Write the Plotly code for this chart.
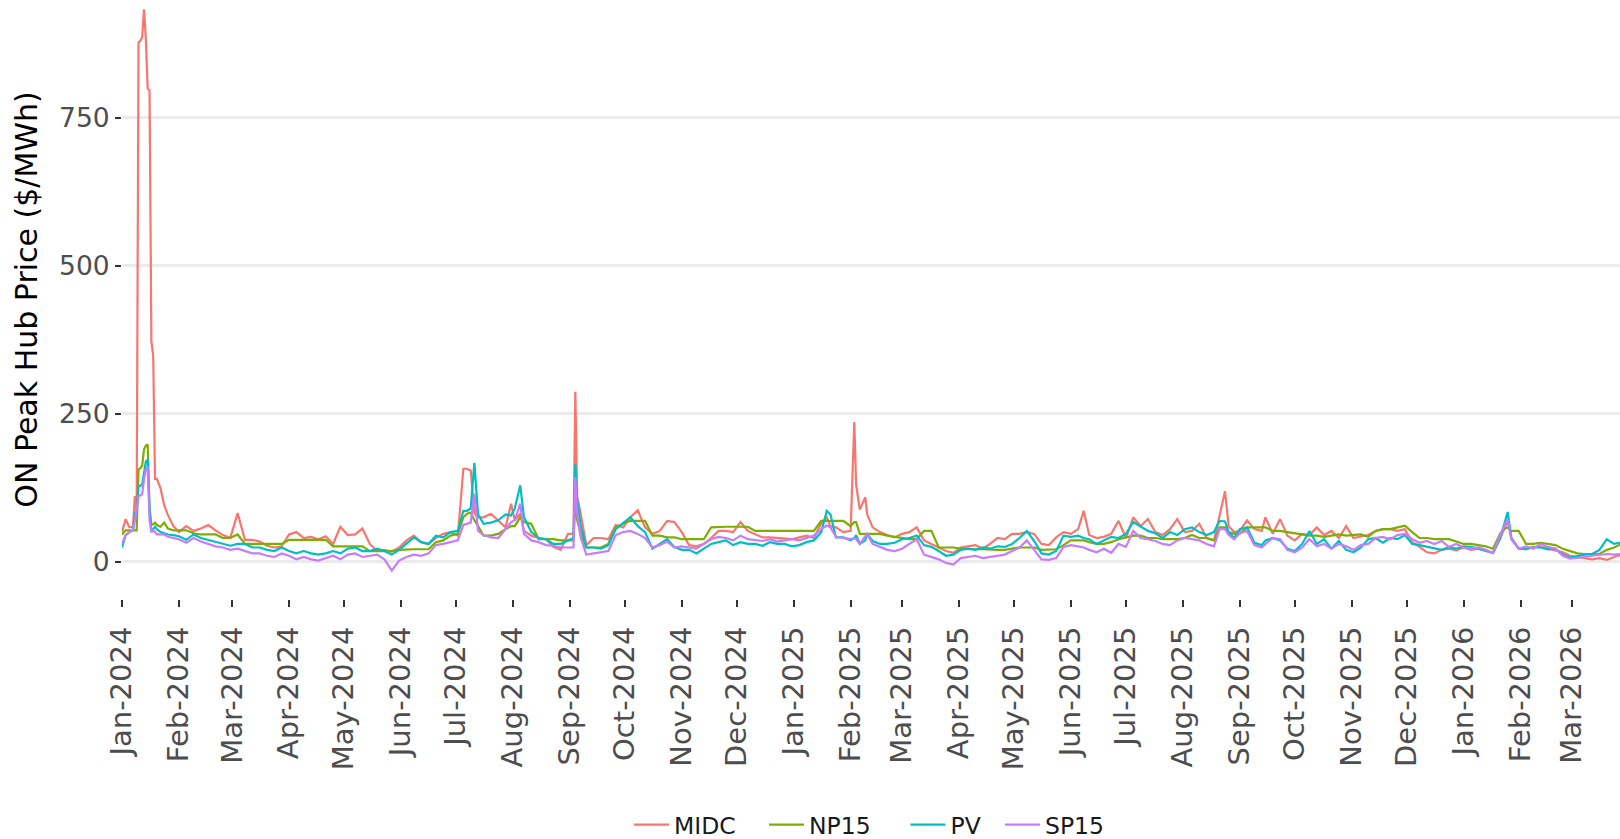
import plotly.graph_objects as go
from datetime import date, timedelta

START = date(2024, 1, 1)
X_END = "2026-03-27 05:00"
SERIES = ["MIDC", "NP15", "PV", "SP15"]
COLORS = ["#F8766D", "#7CAE00", "#00BFC4", "#C77CFF"]
Y_TICKS = [0, 250, 500, 750]

# day offsets from 2024-01-01
DAYS = [0, 2, 4, 6, 7, 8, 9, 10, 11, 12, 13, 14, 15, 16, 17, 18, 19, 21, 23, 25, 28,
        31, 35, 39, 43, 47, 51, 55, 59, 63, 67, 71, 75, 79, 83, 87, 91, 95, 99, 103, 107,
        111, 115, 119, 123, 127, 131, 135, 139, 143, 147, 151,
        155, 159, 163, 167, 171, 175, 179, 183, 186, 188, 190, 192, 194, 197, 201, 205, 209, 212, 214, 217,
        219, 223, 227, 231, 235, 239, 243, 246, 247, 248, 250, 253, 257, 261, 265, 269, 273, 277, 281, 285,
        289, 293, 297, 301, 305, 309, 313, 317, 321, 325, 329, 333, 337, 341, 345, 349, 353, 357,
        361, 365, 369, 373, 377, 381, 384, 386, 389, 393, 397, 399, 400, 402, 405, 406, 409, 413, 417, 421,
        425, 429, 433, 437, 441, 445, 449, 453, 457, 461, 465, 469, 473, 477, 481, 485, 489, 493, 497, 501,
        505, 509, 513, 517, 521, 524, 527, 531, 535, 539, 543, 547, 551, 555, 559, 563, 567, 571, 575, 579,
        583, 587,
        591, 595, 598, 601, 603, 606, 609, 613, 617, 621, 623, 627, 631, 635, 639, 643, 647, 651, 655, 659,
        663, 667, 671, 675, 679, 683, 687, 691, 695, 699, 703, 707, 711, 715, 719, 723, 727, 731, 735, 739,
        743, 747, 751, 753, 755, 757, 761, 765, 769, 773, 777, 781, 785, 789, 793, 797, 801, 805, 809, 813,
        817, 821]

MIDC = [50, 72, 58, 59, 111, 88, 877, 880, 886, 933, 883, 799, 796, 373, 347, 140, 140, 124, 95, 79, 60,
        50, 60, 52, 56, 62, 53, 45, 40, 82, 37, 37, 34, 27, 24, 26, 46, 50, 40, 42, 38,
        43, 30, 59, 45, 46, 56, 30, 18, 20, 17, 24,
        36, 44, 33, 30, 40, 47, 50, 44, 157, 157, 154, 81, 75, 75, 81, 69, 58, 98, 70, 81,
        52, 44, 40, 38, 25, 20, 47, 47, 287, 110, 80, 28, 40, 40, 38, 62, 58, 75, 87, 58,
        47, 52, 69, 67, 50, 28, 26, 30, 40, 52, 52, 50, 67, 52, 47, 41, 41, 40,
        40, 38, 41, 44, 40, 65, 75, 60, 58, 50, 52, 236, 130, 88, 109, 80, 58, 50, 45, 41,
        47, 50, 58, 36, 30, 24, 18, 15, 24, 26, 28, 22, 30, 40, 38, 47, 47, 50, 47, 30,
        28, 41, 50, 47, 55, 86, 45, 40, 42, 47, 69, 40, 75, 60, 72, 50, 45, 55, 72, 50,
        52, 64,
        40, 36, 75, 119, 60, 50, 52, 70, 55, 52, 75, 47, 72, 44, 36, 47, 45, 58, 45, 52,
        40, 60, 40, 42, 45, 52, 55, 55, 52, 55, 33, 25, 16, 14, 20, 22, 19, 24, 20, 22,
        18, 15, 40, 55, 69, 40, 22, 21, 25, 25, 22, 20, 16, 10, 8, 5, 4, 6, 3, 8,
        12, 14]

NP15 = [46, 53, 53, 53, 53, 53, 156, 158, 162, 190, 196, 198, 90, 63, 63, 66, 62, 59, 66, 56, 53,
        53, 53, 48, 46, 46, 46, 40, 40, 46, 30, 30, 30, 30, 30, 30, 37, 37, 37, 37, 37,
        37, 26, 26, 26, 26, 26, 18, 18, 18, 18, 20,
        21, 21, 21, 21, 33, 36, 44, 47, 75, 81, 83, 70, 60, 44, 44, 47, 55, 60, 60, 75,
        67, 64, 38, 38, 38, 36, 36, 36, 103, 70, 45, 24, 24, 24, 30, 58, 64, 69, 69, 69,
        44, 44, 41, 41, 38, 38, 38, 38, 58, 59, 59, 59, 59, 59, 52, 52, 52, 52,
        52, 52, 52, 52, 52, 69, 69, 69, 69, 69, 60, 67, 67, 47, 47, 47, 47, 47, 44, 42,
        40, 38, 38, 52, 52, 24, 24, 24, 22, 21, 21, 21, 20, 20, 20, 22, 24, 24, 24, 20,
        20, 21, 28, 36, 36, 36, 33, 30, 30, 33, 38, 41, 44, 44, 40, 40, 38, 38, 38, 40,
        45, 40,
        40, 36, 58, 58, 50, 47, 47, 58, 58, 58, 58, 52, 52, 50, 48, 45, 44, 44, 42, 44,
        46, 44, 45, 46, 42, 52, 55, 55, 58, 61, 50, 40, 40, 38, 38, 38, 34, 30, 30, 28,
        26, 22, 48, 55, 58, 52, 52, 30, 30, 32, 30, 28, 22, 18, 14, 13, 13, 13, 20, 24,
        30, 30]

PV = [24, 45, 50, 53, 82, 85, 127, 128, 130, 150, 169, 172, 88, 53, 55, 59, 55, 50, 48, 46, 45,
      43, 37, 46, 40, 37, 34, 30, 27, 30, 30, 24, 24, 20, 18, 24, 18, 14, 18, 14, 12,
      14, 18, 14, 22, 24, 18, 18, 22, 18, 12, 20,
      30, 41, 33, 30, 44, 41, 50, 52, 86, 86, 90, 167, 80, 64, 66, 70, 80, 78, 90, 129,
      75, 50, 40, 38, 30, 30, 36, 40, 165, 103, 60, 24, 24, 22, 28, 55, 65, 75, 60, 50,
      22, 30, 38, 25, 20, 20, 14, 22, 30, 33, 36, 28, 33, 30, 30, 27, 33, 30,
      30, 26, 28, 33, 36, 50, 86, 80, 41, 41, 36, 40, 45, 30, 36, 47, 35, 30, 30, 32,
      38, 40, 44, 28, 25, 18, 10, 12, 20, 22, 20, 24, 22, 26, 25, 30, 40, 52, 35, 14,
      12, 18, 44, 42, 44, 40, 38, 30, 36, 42, 40, 47, 67, 60, 52, 48, 40, 50, 45, 55,
      58, 50,
      45, 50, 69, 68, 50, 40, 55, 58, 32, 28, 36, 40, 36, 22, 18, 30, 52, 30, 38, 22,
      35, 20, 16, 24, 38, 40, 32, 40, 38, 45, 30, 28, 25, 22, 20, 24, 22, 26, 25, 22,
      18, 15, 40, 62, 84, 40, 22, 22, 24, 24, 21, 22, 12, 7, 10, 12, 13, 20, 38, 30,
      33, 30]

SP15 = [30, 45, 50, 53, 69, 90, 111, 112, 114, 140, 156, 160, 70, 50, 53, 50, 46, 46, 46, 42, 40,
        38, 32, 40, 34, 30, 26, 24, 20, 22, 18, 14, 14, 10, 8, 14, 10, 4, 8, 4, 2,
        6, 10, 4, 12, 14, 8, 10, 12, 4, -15, 2,
        8, 12, 10, 14, 28, 30, 33, 36, 62, 64, 66, 115, 52, 45, 41, 40, 55, 67, 70, 98,
        47, 36, 33, 28, 27, 24, 24, 24, 143, 81, 40, 12, 14, 16, 18, 45, 50, 52, 47, 40,
        24, 28, 34, 24, 26, 24, 22, 30, 38, 42, 40, 36, 44, 38, 36, 35, 38, 34,
        36, 38, 36, 40, 44, 55, 61, 58, 42, 40, 38, 40, 38, 30, 42, 47, 30, 25, 20, 18,
        22, 30, 38, 12, 8, 4, -2, -5, 6, 8, 10, 6, 8, 10, 12, 18, 24, 36, 20, 4,
        3, 6, 25, 28, 26, 24, 20, 16, 22, 15, 30, 25, 52, 40, 38, 35, 30, 28, 36, 40,
        38, 36,
        30, 26, 55, 55, 45, 38, 48, 52, 28, 24, 30, 40, 38, 20, 16, 24, 38, 26, 30, 22,
        30, 26, 20, 28, 30, 40, 42, 38, 45, 47, 38, 32, 35, 30, 35, 25, 30, 24, 22, 24,
        20, 15, 45, 60, 72, 38, 22, 26, 22, 30, 25, 22, 10, 5, 6, 8, 10, 12, 13, 12,
        13, 14]

for arr in (MIDC, NP15, PV, SP15):
    assert len(arr) == len(DAYS), (len(arr), len(DAYS))

dates = [START + timedelta(days=d) for d in DAYS]

LEGEND_IDS = ["legend", "legend2", "legend3", "legend4"]
LEGEND_X = [0.3385, 0.4286, 0.5230, 0.5861]

fig = go.Figure()
for name, vals, col, lid in zip(SERIES, [MIDC, NP15, PV, SP15], COLORS, LEGEND_IDS):
    fig.add_trace(go.Scatter(x=dates, y=vals, mode="lines", name=name, legend=lid,
                             line=dict(color=col, width=2.2)))

legend_common = dict(orientation="h", xanchor="left", y=-0.377, yanchor="middle",
                     font=dict(size=23.5, color="#1A1A1A"), itemwidth=35,
                     bgcolor="rgba(0,0,0,0)")
legend_layout = {lid: dict(x=lx, **legend_common) for lid, lx in zip(LEGEND_IDS, LEGEND_X)}

fig.update_layout(
    width=1620, height=839,
    margin=dict(l=122, r=0, t=0, b=240, autoexpand=False),
    paper_bgcolor="white", plot_bgcolor="white",
    font=dict(family="DejaVu Sans", color="#4D4D4D"),
    showlegend=True,
    xaxis=dict(type="date", range=[START, X_END], tickformat="%b-%Y", dtick="M1",
               tick0="2024-01-01", tickangle=-90, ticks="outside", ticklen=7, tickwidth=2,
               tickcolor="#333333", showgrid=False, zeroline=False, showline=False,
               automargin=False,
               tickfont=dict(size=29, color="#4D4D4D"), ticklabelstandoff=8),
    yaxis=dict(range=[-63, 948.8], tickvals=Y_TICKS, ticks="outside", ticklen=6, tickwidth=2,
               tickcolor="#333333", showgrid=True, gridcolor="#EBEBEB", gridwidth=2.5,
               zeroline=False, showline=False, automargin=False,
               tickfont=dict(size=26.5, color="#4D4D4D"),
               title=dict(text="ON Peak Hub Price ($/MWh)", font=dict(size=30, color="#000000"),
                          standoff=12)),
    **legend_layout,
)

fig.write_html("out.html", post_script="document.body.style.margin='0';",
               config={"displayModeBar": False})
